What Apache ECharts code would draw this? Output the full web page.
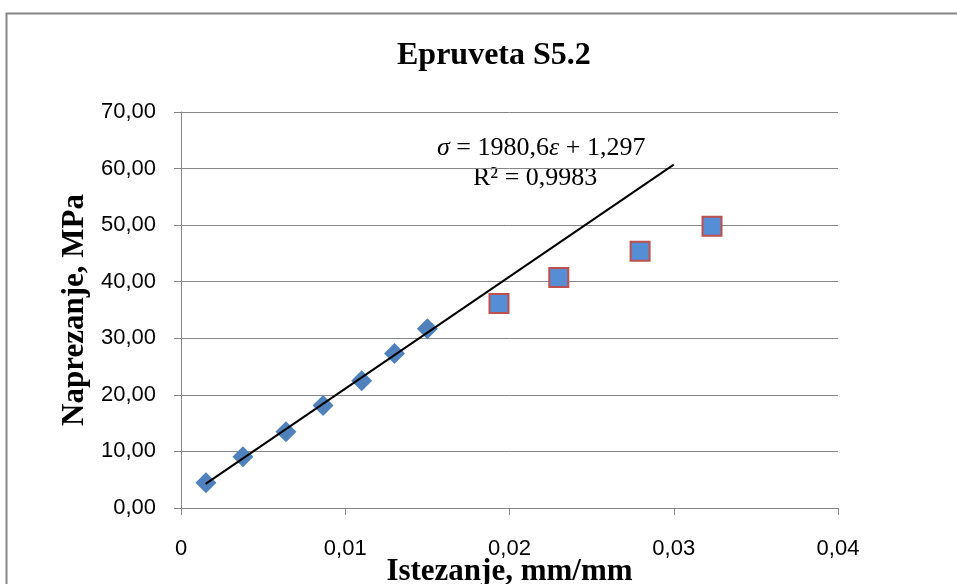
<!DOCTYPE html>
<html>
<head>
<meta charset="utf-8">
<style>
  html, body { margin: 0; padding: 0; background: #fff; }
  #chart { width: 957px; height: 584px; }
</style>
<script src="https://cdn.jsdelivr.net/npm/echarts@6/dist/echarts.min.js"></script>
</head>
<body>
<div id="chart"></div>
<script>
// elasticni dio (rombovi)
var strainLinear = [0.00152, 0.00377, 0.00639, 0.00865, 0.0110, 0.0130, 0.0150];
var stressLinear = [4.45, 9.05, 13.5, 18.1, 22.5, 27.3, 31.7];

// ostale tacke (kvadrati)
var strainRest = [0.01936, 0.0230, 0.02795, 0.03233];
var stressRest = [36.15, 40.75, 45.4, 49.8];

// linija trenda, krajnje tacke
var trendStrain = [0.0015, 0.030];
var trendStress = [4.27, 60.7];

var yTicks = [0, 10, 20, 30, 40, 50, 60, 70];
var xTicks = [0, 0.01, 0.02, 0.03, 0.04];

function pairs(xs, ys) {
  return xs.map(function (x, i) { return [x, ys[i]]; });
}

var chart = echarts.init(document.getElementById('chart'));

var boldSerif = {
  fontFamily: 'Liberation Serif',
  fontWeight: 'bold',
  fontSize: 31,
  color: '#000'
};

var option = {
  animation: false,
  backgroundColor: '#fff',
  title: {
    text: 'Epruveta S5.2',
    left: 392,
    top: 35,
    textStyle: { fontFamily: 'Liberation Serif', fontWeight: 'bold', fontSize: 32, color: '#000' }
  },
  grid: { left: 181, right: 119, top: 112, bottom: 76, outerBoundsMode: 'none' },
  xAxis: {
    type: 'value',
    min: xTicks[0],
    max: xTicks[xTicks.length - 1],
    interval: 0.01,
    name: 'Istezanje, mm/mm',
    nameLocation: 'middle',
    nameGap: 48,
    nameMoveOverlap: false,
    nameTextStyle: boldSerif,
    axisLine: { show: true, lineStyle: { color: '#868686', width: 1 } },
    axisTick: { show: true, length: 7, lineStyle: { color: '#868686' } },
    splitLine: { show: false },
    axisLabel: {
      margin: 30,
      fontFamily: 'Liberation Sans',
      fontSize: 22,
      color: '#000',
      formatter: function (v) { return v === 0 ? '0' : v.toFixed(2).replace('.', ','); }
    }
  },
  yAxis: {
    type: 'value',
    min: yTicks[0],
    max: yTicks[yTicks.length - 1],
    interval: 10,
    name: 'Naprezanje, MPa',
    nameLocation: 'middle',
    nameGap: 88,
    nameTextStyle: boldSerif,
    axisLine: { show: true, lineStyle: { color: '#868686', width: 1 } },
    axisTick: { show: true, inside: false, length: 7, lineStyle: { color: '#868686' } },
    splitLine: { show: true, lineStyle: { color: '#868686', width: 1 } },
    axisLabel: {
      margin: 25,
      fontFamily: 'Liberation Sans',
      fontSize: 22,
      color: '#000',
      formatter: function (v) { return v.toFixed(2).replace('.', ','); }
    }
  },
  graphic: [
    {
      type: 'rect',
      left: 4, top: 11,
      shape: { width: 980, height: 620 },
      style: { fill: 'none', stroke: '#868686', lineWidth: 2 },
      silent: true,
      z: -10
    },
    {
      type: 'text',
      left: 437, top: 135,
      style: {
        text: '{i|σ} = 1980,6{i|ε} + 1,297',
        font: '26px "Liberation Serif"',
        fill: '#000',
        rich: {
          i: { fontFamily: 'Liberation Serif', fontStyle: 'italic', fontSize: 26, color: '#000' }
        }
      }
    },
    {
      type: 'text',
      left: 473, top: 165,
      style: {
        text: 'R² = 0,9983',
        font: '26px "Liberation Serif"',
        fill: '#000'
      }
    }
  ],
  series: [
    {
      name: 'linija',
      type: 'line',
      data: pairs(trendStrain, trendStress),
      symbol: 'none',
      lineStyle: { color: '#000', width: 2 },
      z: 3
    },
    {
      name: 'elasticno',
      type: 'scatter',
      data: pairs(strainLinear, stressLinear),
      symbol: 'diamond',
      symbolSize: [21, 21],
      itemStyle: { color: '#4F81BD', opacity: 1 },
      z: 2
    },
    {
      name: 'ostalo',
      type: 'scatter',
      data: pairs(strainRest, stressRest),
      symbol: 'rect',
      symbolSize: 19,
      itemStyle: { color: '#558ED5', borderColor: '#C0504D', borderWidth: 2, opacity: 1 },
      z: 2
    }
  ]
};

chart.setOption(option);
</script>
</body>
</html>
